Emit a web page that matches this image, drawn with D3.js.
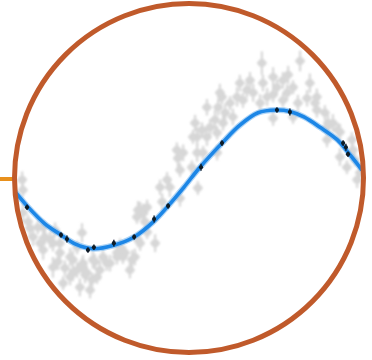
<!DOCTYPE html>
<html>
<head>
<meta charset="utf-8">
<script src="https://cdn.jsdelivr.net/npm/d3@7"></script>
<style>
  html, body { margin: 0; padding: 0; background: #fff; }
  svg { display: block; }
</style>
</head>
<body>
<div id="chart"></div>
<script>
// fitted model curve
const curveX = [0, 0.43, 0.94, 1.4, 1.8, 2.31, 2.91, 3.49, 4.06, 4.46, 4.91, 5.37, 6.0, 6.51, 7.03, 7.54, 7.94, 8.34, 8.8, 9.29, 9.66, 10.0];
const curveY = [-0.13, -0.39, -0.65, -0.81, -0.94, -1.01, -0.96, -0.84, -0.61, -0.39, -0.12, 0.17, 0.52, 0.78, 0.96, 1.0, 0.98, 0.9, 0.75, 0.57, 0.35, 0.13];

// selected points on the curve
const pickX = [0.43, 1.4, 1.57, 2.17, 2.34, 2.91, 3.49, 4.06, 4.46, 5.4, 6.0, 7.57, 7.94, 9.46, 9.54, 9.6];
const pickY = [-0.41, -0.81, -0.87, -1.03, -0.99, -0.93, -0.84, -0.58, -0.39, 0.17, 0.52, 1.0, 0.97, 0.52, 0.46, 0.36];
const pickErr = [0.04, 0.04, 0.05, 0.04, 0.04, 0.05, 0.04, 0.05, 0.04, 0.05, 0.04, 0.04, 0.05, 0.04, 0.05, 0.04];

// raw observations
const obsX = [0.29, 0.31, 0.31, 0.46, 0.51, 0.74, 0.6, 0.94, 0.8, 1.09, 0.89, 1.37, 1.31, 1.17, 1.51, 1.66, 1.74, 1.86, 2.0, 2.0,
  2.09, 2.29, 1.94, 2.23, 2.37, 2.51, 2.6, 2.8, 3.0, 3.09, 3.23, 3.37, 3.43, 3.6, 3.6, 1.46,
  0.89, 1.17, 1.37, 1.74, 1.86, 2.03, 2.14, 2.31, 2.71, 3.0, 3.17, 3.51, 3.66, 3.74, 2.43, 1.66, 1.23,
  3.66, 3.86, 3.57, 3.8, 4.29, 4.43, 4.51, 4.8, 4.74, 4.89, 4.71, 5.14, 5.29, 5.29, 5.23, 5.17, 5.43, 5.57, 5.66, 5.86,
  5.8, 5.89, 6.0, 6.09, 6.23, 6.31, 6.43, 5.86, 5.31, 4.8, 5.94, 6.03, 5.46, 5.57, 4.23, 4.09, 3.86,
  7.14, 8.23, 6.8, 6.71, 6.89, 7.17, 7.46, 7.57, 7.74, 7.89, 8.03, 7.86, 7.46, 7.29, 8.51, 8.43, 8.66, 8.71, 8.17, 7.09,
  6.6, 6.51, 9.0, 9.17, 9.37, 9.0, 9.37, 9.57, 9.86, 9.94, 8.71, 7.74,
  8.94, 9.03, 9.31, 9.71, 9.74, 9.8, 7.46, 8.03];
const obsY = [-0.01, -0.16, -0.49, -0.62, -0.71, -0.7, -0.84, -0.84, -0.93, -0.88, -1.03, -0.93, -1.2, -1.28, -1.29, -1.13, -1.36, -0.99, -0.78, -1.25,
  -1.39, -1.46, -1.57, -1.61, -1.2, -1.32, -1.13, -1.22, -1.13, -0.99, -1.07, -1.32, -1.17, -0.88, -0.45, -1.51,
  -0.7, -0.93, -1.07, -1.17, -1.32, -1.22, -1.36, -1.17, -1.22, -1.07, -1.13, -1.13, -0.93, -0.49, -1.42, -1.42, -0.74,
  -0.45, -0.41, -0.55, -0.62, -0.33, -0.01, -0.12, 0.13, 0.3, 0.38, 0.42, 0.17, 0.38, 0.61, 0.81, 0.61, 0.71, 0.61, 0.75, 0.67,
  0.86, 1.04, 1.19, 0.96, 1.1, 0.9, 1.19, 0.38, -0.13, -0.28, 1.25, 0.81, 0.38, 1.04, -0.12, -0.93, -0.77,
  1.68, 1.71, 1.43, 1.29, 1.25, 1.39, 1.48, 1.33, 1.43, 1.51, 1.33, 1.25, 1.22, 1.19, 1.39, 1.17, 1.1, 1.0, 1.1, 1.1,
  1.14, 1.39, 0.75, 0.81, 0.68, 0.57, 0.32, 0.17, -0.01, 0.09, 1.19, 1.14,
  0.96, 0.81, 0.71, 0.57, 0.42, 0.28, 0.88, 0.9];
const obsErr = [0.12, 0.1, 0.14, 0.1, 0.12, 0.1, 0.13, 0.11, 0.1, 0.12, 0.14, 0.1, 0.12, 0.15, 0.11, 0.13, 0.12, 0.1, 0.14, 0.11,
  0.12, 0.1, 0.13, 0.12, 0.11, 0.14, 0.1, 0.12, 0.11, 0.13, 0.1, 0.12, 0.14, 0.11, 0.13, 0.1,
  0.11, 0.12, 0.1, 0.13, 0.11, 0.12, 0.1, 0.13, 0.11, 0.12, 0.1, 0.12, 0.11, 0.13, 0.1, 0.12, 0.11,
  0.12, 0.11, 0.1, 0.13, 0.12, 0.11, 0.14, 0.1, 0.13, 0.12, 0.11, 0.1, 0.13, 0.14, 0.12, 0.1, 0.11, 0.13, 0.12, 0.1,
  0.14, 0.12, 0.11, 0.13, 0.1, 0.12, 0.14, 0.11, 0.1, 0.12, 0.13, 0.11, 0.1, 0.12, 0.11, 0.13, 0.1,
  0.17, 0.15, 0.12, 0.11, 0.13, 0.12, 0.14, 0.11, 0.12, 0.13, 0.1, 0.12, 0.11, 0.13, 0.14, 0.12, 0.1, 0.11, 0.12, 0.13,
  0.11, 0.12, 0.1, 0.13, 0.12, 0.11, 0.13, 0.1, 0.12, 0.11, 0.12, 0.1,
  0.11, 0.12, 0.1, 0.11, 0.12, 0.1, 0.11, 0.1];

const width = 372, height = 360;
const cx = 189, cy = 178, r = 174.5;

const svg = d3.select("#chart")
  .append("svg")
  .attr("width", width)
  .attr("height", height);

const x = d3.scaleLinear().domain([0, 10]).range([12, 362]);
const y = d3.scaleLinear().domain([-1, 1]).range([248, 110]);

const defs = svg.append("defs");
defs.append("clipPath")
  .attr("id", "lens")
  .append("circle")
  .attr("cx", cx)
  .attr("cy", cy)
  .attr("r", r - 1);
defs.append("filter")
  .attr("id", "soft")
  .append("feGaussianBlur")
  .attr("stdDeviation", 0.8);
defs.append("filter")
  .attr("id", "softer")
  .append("feGaussianBlur")
  .attr("stdDeviation", 0.45);

// orange pointer on the left
svg.append("line")
  .attr("x1", 0).attr("x2", cx - r)
  .attr("y1", cy + 1).attr("y2", cy + 1)
  .attr("stroke", "#e8901c")
  .attr("stroke-width", 4);

const g = svg.append("g").attr("clip-path", "url(#lens)");

// gray observations with error bars
const obs = obsX.map((v, i) => ({ x: v, y: obsY[i], e: obsErr[i] }));
const gray = "#d7d7d7";
const og = g.append("g").attr("class", "obs").attr("filter", "url(#soft)");
og.selectAll("line.ey")
  .data(obs)
  .join("line")
  .attr("class", "ey")
  .attr("x1", (d) => x(d.x)).attr("x2", (d) => x(d.x))
  .attr("y1", (d) => y(d.y - d.e)).attr("y2", (d) => y(d.y + d.e))
  .attr("stroke", gray)
  .attr("stroke-width", 2.2);
og.selectAll("line.ex")
  .data(obs)
  .join("line")
  .attr("class", "ex")
  .attr("x1", (d) => x(d.x - 0.14)).attr("x2", (d) => x(d.x + 0.14))
  .attr("y1", (d) => y(d.y)).attr("y2", (d) => y(d.y))
  .attr("stroke", gray)
  .attr("stroke-width", 2.2);
og.selectAll("circle")
  .data(obs)
  .join("circle")
  .attr("cx", (d) => x(d.x))
  .attr("cy", (d) => y(d.y))
  .attr("r", 4)
  .attr("fill", gray);

// model curve
const pts = curveX.map((v, i) => [v, curveY[i]]);
const line = d3.line()
  .x((d) => x(d[0]))
  .y((d) => y(d[1]))
  .curve(d3.curveCatmullRom);

const cg = g.append("g").attr("filter", "url(#softer)");
cg.append("path")
  .datum(pts)
  .attr("d", line)
  .attr("fill", "none")
  .attr("stroke", "#7bb9f0")
  .attr("stroke-width", 6)
  .attr("stroke-opacity", 0.6);
cg.append("path")
  .datum(pts)
  .attr("d", line)
  .attr("fill", "none")
  .attr("stroke", "#1c86e6")
  .attr("stroke-width", 3.6);

// picked points
const picks = pickX.map((v, i) => ({ x: v, y: pickY[i], e: pickErr[i] }));
const pg = cg.append("g").attr("class", "picks");
pg.selectAll("line")
  .data(picks)
  .join("line")
  .attr("x1", (d) => x(d.x)).attr("x2", (d) => x(d.x))
  .attr("y1", (d) => y(d.y - d.e)).attr("y2", (d) => y(d.y + d.e))
  .attr("stroke", "#0e1a26")
  .attr("stroke-width", 1.4);
pg.selectAll("circle")
  .data(picks)
  .join("circle")
  .attr("cx", (d) => x(d.x))
  .attr("cy", (d) => y(d.y))
  .attr("r", 2.1)
  .attr("fill", "#0e1a26");

// lens ring
svg.append("circle")
  .attr("cx", cx)
  .attr("cy", cy)
  .attr("r", r)
  .attr("fill", "none")
  .attr("stroke", "#c05a2b")
  .attr("stroke-width", 5);
</script>
</body>
</html>
